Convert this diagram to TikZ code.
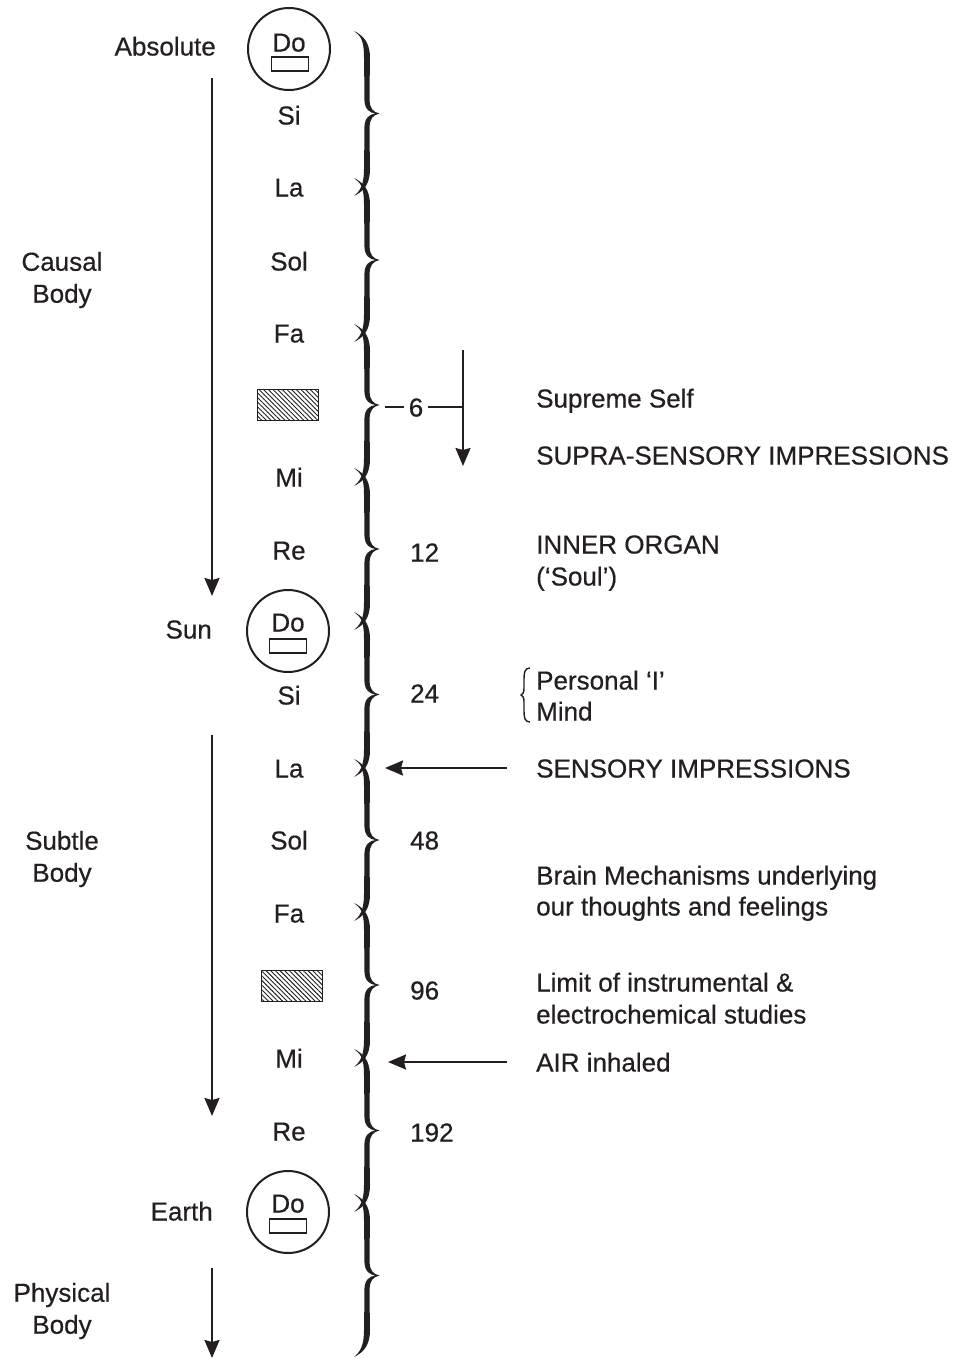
\documentclass[tikz,border=0pt]{standalone}
\usepackage{fontspec}
\setmainfont{Liberation Sans}[FakeBold=0.5]
\usetikzlibrary{arrows.meta,patterns.meta}
\definecolor{ink}{RGB}{35,31,32}
\newcommand\fs{\fontsize{26}{32}\selectfont}
\newcommand\brc[2]{%
  \pgfmathsetmacro\ya{#1}\pgfmathsetmacro\yb{#2}\pgfmathsetmacro\ym{(#1+#2)/2}%
  \fill[ink] (354,\ya-9) .. controls (362,\ya-5) and (370,\ya+1) .. (370,\ya+18)
    .. controls (370,\ya+32) and (369.3,\ym-30) .. (369.6,\ym-14) .. controls (369.7,\ym-5) and (373,\ym-1.5) .. (379.5,\ym)
    .. controls (373,\ym+1.5) and (369.7,\ym+5) .. (369.6,\ym+14)
    .. controls (369.3,\ym+30) and (370,\yb-32) .. (370,\yb-18) .. controls (370,\yb-1) and (362,\yb+5) .. (354,\yb+9)
    .. controls (360,\yb+4) and (364,\yb-2) .. (364,\yb-18)
    .. controls (364,\yb-32) and (364.6,\ym+30) .. (364.4,\ym+14) .. controls (364.5,\ym+4) and (370,\ym+0.6) .. (375.5,\ym)
    .. controls (370,\ym-0.6) and (364.5,\ym-4) .. (364.4,\ym-14)
    .. controls (364.6,\ym-30) and (364,\ya+32) .. (364,\ya+18) .. controls (364,\ya-2) and (360,\ya-4) .. (354,\ya-9) -- cycle;%
}
\begin{document}
\begin{tikzpicture}[x=1pt,y=-1pt,
  lab/.style={font=\fs, text=ink, inner sep=0pt, text height=19pt, text depth=0pt},
  ml/.style={font=\fs, text=ink, inner sep=0pt, align=center},
  num/.style={lab, anchor=west},
  note/.style={lab, anchor=west},
  docirc/.style={circle, draw=ink, line width=2pt, minimum size=82pt, inner sep=0pt},
  dobar/.style={draw=ink, line width=1.3pt, minimum width=37pt, minimum height=14pt, inner sep=0pt},
  hatch/.style={draw=ink, line width=1.4pt, minimum width=61pt, minimum height=31pt, inner sep=0pt,
    pattern={Lines[angle=-45,distance=3.3pt,line width=0.9pt]}, pattern color=ink},
  arr/.style={draw=ink, line width=2pt, -{Stealth[length=18pt,width=15pt,inset=2pt]}},
  thin/.style={draw=ink, line width=2pt}
]
\useasboundingbox (0,0) rectangle (953,1358);
\fill[white] (0,0) rectangle (953,1358);

% left labels
\node[lab, anchor=east] (absolute) at (216,46) {Absolute};
\node[lab, anchor=east] (sun) at (212,629) {Sun};
\node[lab, anchor=east] (earth) at (213,1211) {Earth};
\node[ml] (causal) at (62,280) {Causal\\Body};
\node[ml] (subtle) at (62,859) {Subtle\\Body};
\node[ml] (physical) at (62,1311) {Physical\\Body};

% descending arrows
\coordinate (ca1) at (212,78);  \coordinate (ca2) at (212,596);
\coordinate (sa1) at (212,735); \coordinate (sa2) at (212,1116);
\coordinate (pa1) at (212,1268); \coordinate (pa2) at (212,1358);
\draw[arr] (ca1) -- (ca2);
\draw[arr] (sa1) -- (sa2);
\draw[arr] (pa1) -- (pa2);

% notes
\node[docirc] (doA) at (289,49) {};
\node[lab] (doAt) at (289,42) {Do};
\node[dobar] (doAr) at (290,64) {};
\node[lab] (si1) at (289,115) {Si};
\node[lab] (la1) at (289,187) {La};
\node[lab] (sol1) at (289,261) {Sol};
\node[lab] (fa1) at (289,333) {Fa};
\node[hatch] (h1) at (288,405) {};
\node[lab] (mi1) at (289,477) {Mi};
\node[lab] (re1) at (289,550) {Re};
\node[docirc] (doS) at (288,631) {};
\node[lab] (doSt) at (288,622) {Do};
\node[dobar] (doSr) at (288,646) {};
\node[lab] (si2) at (289,695) {Si};
\node[lab] (la2) at (289,768) {La};
\node[lab] (sol2) at (289,840) {Sol};
\node[lab] (fa2) at (289,913) {Fa};
\node[hatch] (h2) at (292,986) {};
\node[lab] (mi2) at (289,1058) {Mi};
\node[lab] (re2) at (289,1131) {Re};
\node[docirc] (doE) at (288,1212) {};
\node[lab] (doEt) at (288,1203) {Do};
\node[dobar] (doEr) at (288,1226) {};

% chain of braces
\brc{40}{187}
\brc{187}{333}
\brc{333}{477}
\brc{477}{621}
\brc{621}{768}
\brc{768}{912}
\brc{912}{1058}
\brc{1058}{1203}
\brc{1203}{1348}

% numbers
\coordinate (bt6) at (385,407);
\node[lab, inner xsep=5pt] (six) at (416,407) {6};
\coordinate (vj) at (463,407);
\coordinate (vt) at (463,350);
\coordinate (vb) at (463,466);
\draw[thin] (bt6) -- (six.west);
\draw[thin] (six.east) -- (vj);
\draw[arr] (vt) -- (vb);
\node[num] (n12) at (410,552) {12};
\node[num] (n24) at (410,693) {24};
\node[num] (n48) at (410,840) {48};
\node[num] (n96) at (410,990) {96};
\node[num] (n192) at (410,1132) {192};

% right texts
\node[note] (supreme) at (536,398) {Supreme Self};
\node[note] (supra) at (536,455) {SUPRA-SENSORY IMPRESSIONS};
\node[note] (inner) at (536,544) {INNER ORGAN};
\node[note] (soul) at (536,576) {(‘Soul’)};
\node[note] (personal) at (536,680) {Personal ‘I’};
\node[note] (mind) at (536,711) {Mind};
\node[note] (sens) at (536,768) {SENSORY IMPRESSIONS};
\node[note] (brain1) at (536,875) {Brain Mechanisms underlying};
\node[note] (brain2) at (536,906) {our thoughts and feelings};
\node[note] (limit1) at (536,982) {Limit of instrumental \&};
\node[note] (limit2) at (536,1014) {electrochemical studies};
\node[note] (air) at (536,1062) {AIR inhaled};

% small brace before Personal / Mind
\draw[ink, line width=1.4pt] (530,668) .. controls (525,668) and (524,672) .. (524,679)
  -- (524,688) .. controls (524,692) and (523,694.5) .. (521,695)
  .. controls (523,695.5) and (524,698) .. (524,702)
  -- (524,711) .. controls (524,718) and (525,722) .. (530,722);

% incoming arrows
\coordinate (sensTip) at (385,768);
\coordinate (airTip) at (388,1062);
\draw[arr, shorten <=29pt] (sens.west) -- (sensTip);
\draw[arr, shorten <=29pt] (air.west) -- (airTip);
\end{tikzpicture}
\end{document}
